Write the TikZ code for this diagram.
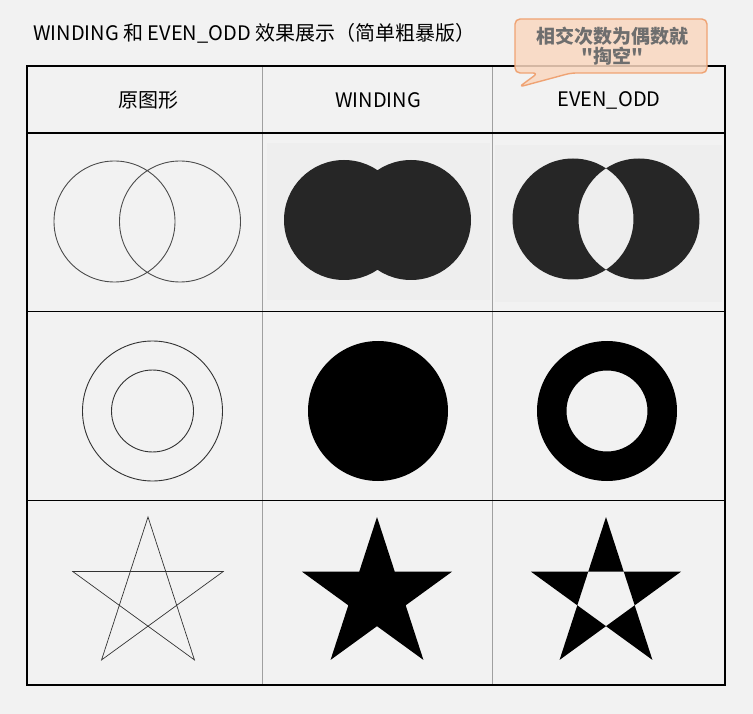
\documentclass[tikz,border=0pt]{standalone}
\usepackage{fontspec}
\setmainfont{Noto Sans CJK SC}
\newfontfamily\notefont{Noto Sans CJK SC}
\usepackage{tikz}
\usetikzlibrary{calc}
\definecolor{Paper}{HTML}{F2F2F2}
\definecolor{Panel}{HTML}{EEEEEE}
\definecolor{Shape}{HTML}{262626}
\definecolor{Grid}{HTML}{A0A0A0}
\definecolor{Peach}{HTML}{FAD8C0}
\definecolor{PeachLine}{HTML}{EFA374}
\definecolor{Note}{HTML}{6E6E6E}
\tikzset{
 title/.style={font=\fontsize{20}{24}\selectfont,anchor=west,inner sep=0pt},
 head/.style={font=\fontsize{20}{24}\selectfont,inner sep=0pt},
 frame/.style={draw=black,line width=2.2pt},
 rowline/.style={draw=black,line width=1pt},
 colline/.style={draw=Grid,line width=0.8pt},
 outline/.style={draw=black!80,line width=0.9pt},
 callout/.style={fill=Peach,fill opacity=0.85,draw=PeachLine,line width=1.4pt,
   rounded corners=5pt,line join=round},
 notetext/.style={font=\notefont\bfseries\fontsize{19}{20}\selectfont,text=Note,align=center,inner sep=0pt}
}
\newcommand{\pentagram}[1]{[shift={#1}] (-90:79) -- (126:79) -- (-18:79) -- (-162:79) -- (54:79) -- cycle}

\begin{document}
\begin{tikzpicture}[x=1pt,y=-1pt]
\useasboundingbox (0,0) rectangle (753,714);
\fill[Paper] (0,0) rectangle (753,714);
\node[title] (caption) at (33,33) {WINDING 和 EVEN\_ODD 效果展示（简单粗暴版）};
% table
\draw[colline] (262,66) -- (262,685) (492,66) -- (492,685);
\draw[rowline] (27,312) -- (725,312) (27,500) -- (725,500);
\draw[frame] (27,133) -- (725,133);
\node[head] (orig) at (148,100) {原图形};
\node[head] (wind) at (378,100) {WINDING};
\node[head] (even) at (609,100) {EVEN\_ODD};
% row 1: two circles
\draw[outline,draw=black!70] (114.5,221.5) circle (60.5) (180,221.5) circle (60.5);
\fill[Panel] (267,143) rectangle (490,300);
\fill[Shape,nonzero rule] (344,220) circle (60) (411,220) circle (60);
\fill[Panel] (495,145) rectangle (722,302);
\fill[Shape,even odd rule] (573,219) circle (60.5) (639,219) circle (60.5);
% row 2: two rings
\draw[outline] (152.5,411) circle (70) (152.5,411) circle (41);
\fill[black,nonzero rule] (378,411) circle (70) (378,411) circle (41);
\fill[black,even odd rule] (607,411) circle (70) (607,411) circle (40.5);
% row 3: stars
\draw[outline,line width=0.7pt,line join=miter] \pentagram{(148,596)};
\fill[black,nonzero rule] \pentagram{(377,596)};
\fill[black,even odd rule] \pentagram{(606,596)};
\draw[frame] (27,66) rectangle (725,685);
% callout
\draw[callout] (538,73) -- (519,87) -- (571,73) -- (707,73) -- (707,19) -- (515,19) -- (515,73) -- cycle;
\node[notetext] (note) at (612,46) {相交次数为偶数就\\"掏空"};
\end{tikzpicture}
\end{document}
